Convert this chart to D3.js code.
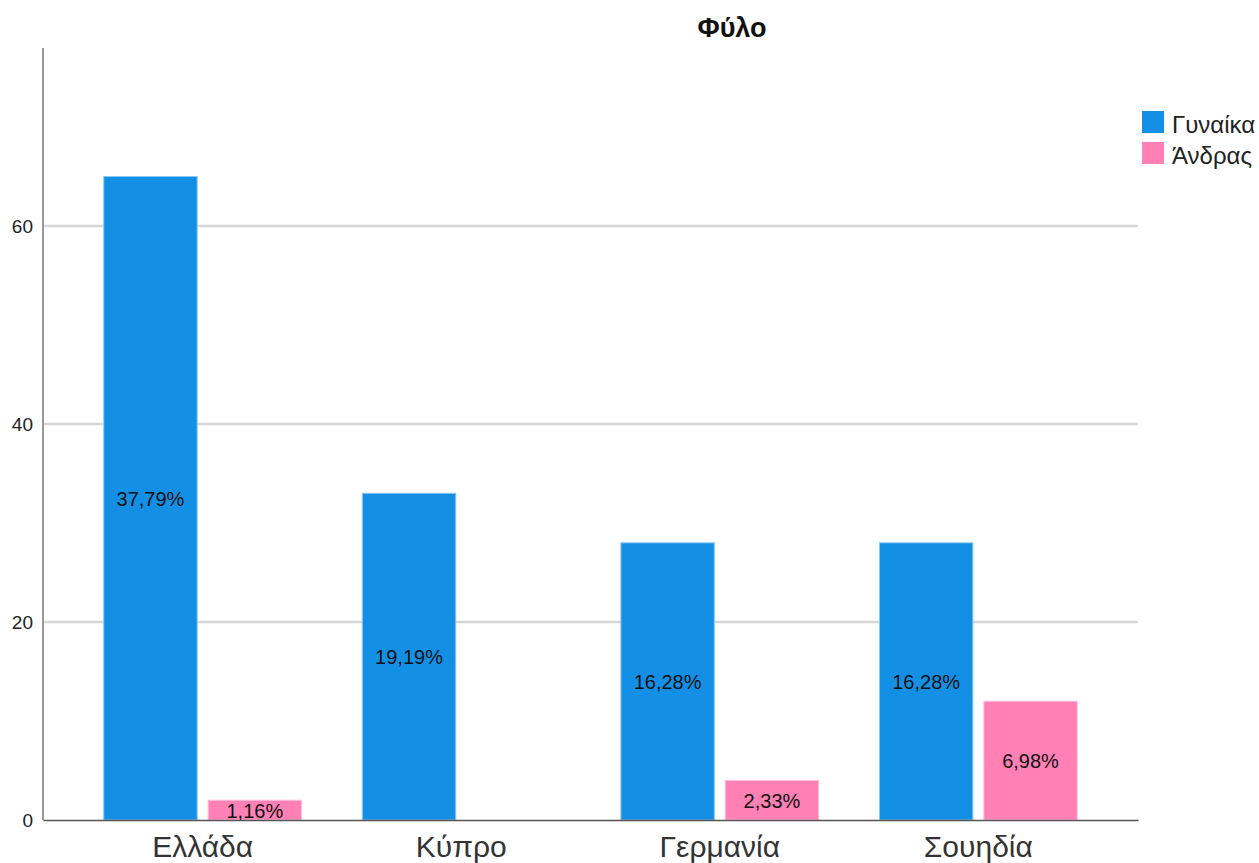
<!DOCTYPE html>
<html>
<head>
<meta charset="utf-8">
<script src="https://cdn.jsdelivr.net/npm/d3@7"></script>
<style>
  body { margin: 0; background: #fff; }
  text { font-family: "Liberation Sans", Arial, sans-serif; }
</style>
</head>
<body>
<svg id="chart"></svg>
<script>
// Data
const countries = ["Ελλάδα", "Κύπρο", "Γερμανία", "Σουηδία"];
const genders = ["Γυναίκα", "Άνδρας"];
const women = [65, 33, 28, 28];
const men = [2, 0, 4, 12];
const womenLabels = ["37,79%", "19,19%", "16,28%", "16,28%"];
const menLabels = ["1,16%", "", "2,33%", "6,98%"];
const yTicks = [0, 20, 40, 60];
const colors = ["#1390e6", "#ff80b4"];

let data = [];
countries.forEach((c, i) => {
  data.push({ country: c, gender: genders[0], value: women[i], label: womenLabels[i] });
  data.push({ country: c, gender: genders[1], value: men[i], label: menLabels[i] });
});

// Size
let width = 1259;
let height = 863;
let plotLeft = 43, plotRight = 1138, plotTop = 48, plotBottom = 820;
let svg = d3.select("#chart").attr("width", width).attr("height", height);

let x = d3.scaleBand().domain(countries).range([plotLeft, plotRight]).padding(0.235);
let xSub = d3.scaleBand().domain(genders).range([0, x.bandwidth()]).paddingInner(0.105);
let y = d3.scaleLinear().domain([0, 78]).range([plotBottom, plotBottom - 78 * 9.9]);

// Gridlines
svg.append("g")
  .selectAll("line")
  .data(yTicks.filter((d) => d > 0))
  .enter()
  .append("line")
  .attr("x1", plotLeft)
  .attr("x2", plotRight)
  .attr("y1", (d) => y(d))
  .attr("y2", (d) => y(d))
  .attr("stroke", "#d6d6d6")
  .attr("stroke-width", 2.5);

// Y axis
let yAxis = svg.append("g")
  .attr("transform", "translate(" + plotLeft + ",0)")
  .call(d3.axisLeft(y).tickValues(yTicks).tickSize(0).tickPadding(10));
yAxis.select(".domain").remove();
yAxis.selectAll("text")
  .style("font-size", "19px")
  .attr("fill", "#222");
svg.append("line")
  .attr("x1", plotLeft).attr("x2", plotLeft)
  .attr("y1", plotTop).attr("y2", plotBottom)
  .attr("stroke", "#999").attr("stroke-width", 2);

// Bars
svg.append("g")
  .selectAll("rect")
  .data(data)
  .enter()
  .append("rect")
  .attr("x", (d) => x(d.country) + xSub(d.gender))
  .attr("width", xSub.bandwidth())
  .attr("y", (d) => y(d.value))
  .attr("height", (d) => y(0) - y(d.value))
  .attr("fill", (d) => colors[genders.indexOf(d.gender)])
  .attr("stroke", (d) => d.value > 0 ? (d.gender === genders[0] ? "#8cc8f2" : "#ffc0da") : "none")
  .attr("stroke-width", 1);

// Bar labels
svg.append("g")
  .selectAll("text")
  .data(data.filter((d) => d.label))
  .enter()
  .append("text")
  .attr("x", (d) => x(d.country) + xSub(d.gender) + xSub.bandwidth() / 2)
  .attr("y", (d) => (y(d.value) + y(0)) / 2)
  .attr("dy", "0.38em")
  .attr("text-anchor", "middle")
  .style("font-size", "20px")
  .attr("fill", "#111")
  .text((d) => d.label);

// X axis
let xAxis = svg.append("g")
  .attr("transform", "translate(0," + plotBottom + ")")
  .call(d3.axisBottom(x).tickSize(0).tickPadding(16));
xAxis.select(".domain").attr("stroke", "#555").attr("stroke-width", 1.5);
xAxis.selectAll("text")
  .style("font-size", "30px")
  .attr("fill", "#333");

// Title
svg.append("text")
  .attr("x", 732)
  .attr("y", 37)
  .attr("text-anchor", "middle")
  .style("font-size", "27px")
  .style("font-weight", "bold")
  .attr("fill", "#111")
  .text("Φύλο");

// Legend
let legend = svg.append("g").attr("transform", "translate(1142,111)");
genders.forEach((g, i) => {
  legend.append("rect")
    .attr("x", 0)
    .attr("y", i * 31)
    .attr("width", 22)
    .attr("height", 22)
    .attr("fill", colors[i]);
  legend.append("text")
    .attr("x", 30)
    .attr("y", i * 31 + 22)
    .style("font-size", "24px")
    .attr("fill", "#222")
    .text(g);
});
</script>
</body>
</html>
